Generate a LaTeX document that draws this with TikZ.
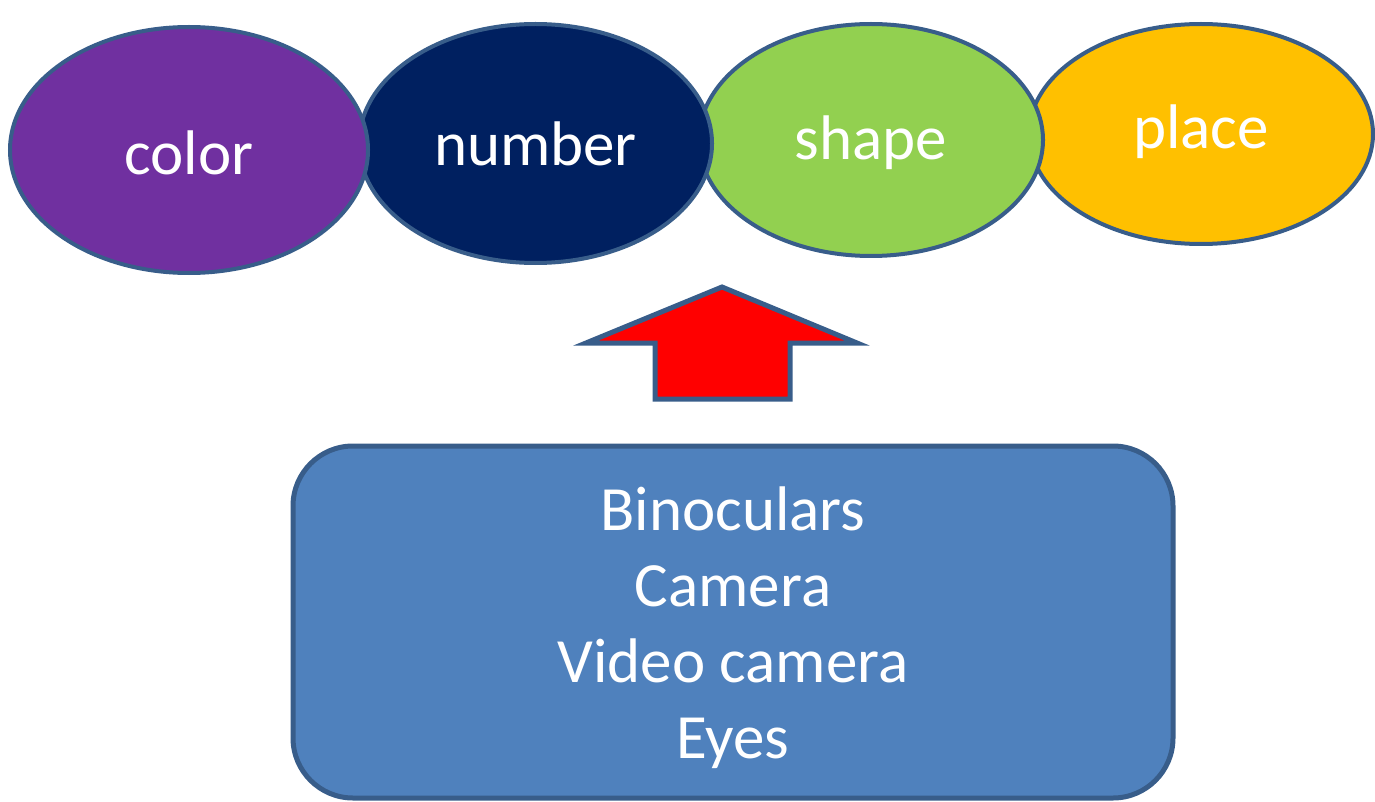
\documentclass[tikz,border=0pt]{standalone}
\usepackage{fontspec}
\setmainfont{Carlito}
\usetikzlibrary{shapes.geometric}
\definecolor{edgeblue}{HTML}{385D8A}
\definecolor{cpurple}{HTML}{7030A0}
\definecolor{cnavy}{HTML}{002060}
\definecolor{cgreen}{HTML}{92D050}
\definecolor{corange}{HTML}{FFC000}
\definecolor{boxblue}{HTML}{4F81BD}
\newcommand{\shiftby}[2]{\raisebox{#1}[\height][\depth]{#2}}
\tikzset{
  oval/.style={ellipse, draw=edgeblue, line width=4pt, inner sep=0pt, text=white,
    font=\fontsize{63}{76}\selectfont},
  listbox/.style={draw=edgeblue, line width=5pt, fill=boxblue, rounded corners=60pt,
    text=white, font=\fontsize{63}{76}\selectfont},
  uparrow/.style={draw=edgeblue, line width=5pt, fill=red, line join=miter}
}
\begin{document}
\begin{tikzpicture}[x=1pt,y=-1pt]
\useasboundingbox (0,0) rectangle (1375,802);
\node[oval, fill=corange, minimum width=344pt, minimum height=220pt] (place) at (1201,134) {\shiftby{2pt}{place}};
\node[oval, fill=cgreen, minimum width=344pt, minimum height=232pt] (shape) at (871,140) {\shiftby{-3pt}{shape}};
\node[oval, fill=cnavy, minimum width=353pt, minimum height=239pt] (number) at (535.5,143.5) {number};
\node[oval, fill=cpurple, minimum width=358pt, minimum height=246pt] (color) at (189,150) {\shiftby{-3pt}{color}};
\draw[uparrow] (722,287) -- (586,343) -- (655,343) -- (655,399) -- (790,399) -- (790,343) -- (857,343) -- cycle;
\node[listbox, minimum width=880pt, minimum height=352pt] (box) at (733,622)
  {\shiftby{-7pt}{\begin{tabular}{@{}c@{}}Binoculars\\Camera\\Video camera\\Eyes\end{tabular}}};
\end{tikzpicture}
\end{document}
